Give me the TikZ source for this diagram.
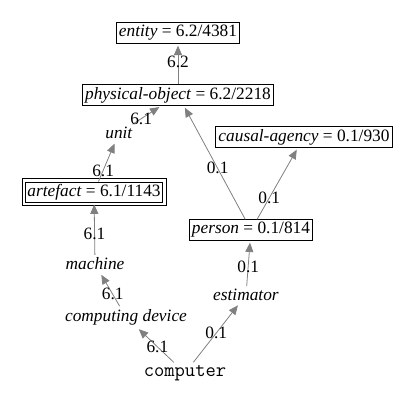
\documentclass[tikz,border=0pt]{standalone}
\usepackage{fontspec}
\setmainfont{Liberation Serif}
\usetikzlibrary{arrows.meta}
\definecolor{edgegray}{RGB}{128,128,128}
\tikzset{
  syn/.style={draw,inner sep=2pt,line width=0.6pt},
  dsyn/.style={draw,inner sep=1.6pt,line width=0.6pt},
  wrd/.style={inner sep=2pt},
  hyp/.style={edgegray,line width=0.6pt,-{Triangle[length=7pt,width=6pt]},shorten >=1.5pt},
  elab/.style={inner sep=0pt,text=black},
  every picture/.style={x=0.75pt,y=-0.75pt,font=\fontsize{13}{15}\selectfont}
}
\begin{document}
\begin{tikzpicture}
      \useasboundingbox (0,0) rectangle (415,403);
      \node[syn] (entity) at (178,33) {\textit{entity} = 6.2/4381};
      \node[syn] (phys) at (178,95) {\textit{physical-object} = 6.2/2218};
      \node[wrd] (unit) at (119,133) {\textit{unit}};
      \node[syn] (causal) at (304,137) {\textit{causal-agency} = 0.1/930};
      \node[dsyn] (artefact) at (94,192) {\textit{artefact} = 6.1/1143};
      \draw[line width=0.6pt] ([shift={(-2.2pt,-2.2pt)}]artefact.south west) rectangle ([shift={(2.2pt,2.2pt)}]artefact.north east);
      \node[syn] (person) at (251,230) {\textit{person} = 0.1/814};
      \node[wrd] (machine) at (95,264) {\textit{machine}};
      \node[wrd] (estimator) at (246,295) {\textit{estimator}};
      \node[wrd] (compdev) at (126,317) {\textit{computing device}};
      \node[wrd,font=\fontsize{15}{17}\selectfont\ttfamily] (computer) at (185,373) {computer};
      \draw[hyp] (phys) -- node[elab,pos=0.55] {6.2} (entity);
      \draw[hyp] (unit) -- node[elab,pos=0.3] {6.1} (phys);
      \draw[hyp] (artefact) -- node[elab,pos=0.28] {6.1} (unit);
      \draw[hyp] (machine) -- node[elab,pos=0.4] {6.1} (artefact);
      \draw[hyp] (compdev) -- node[elab,pos=0.36] {6.1} (machine);
      \draw[hyp] (computer) -- node[elab,pos=0.45] {6.1} (compdev);
      \draw[hyp] (computer) -- node[elab,pos=0.5] {0.1} (estimator);
      \draw[hyp] (estimator) -- node[elab,pos=0.43] {0.1} (person);
      \draw[hyp] (person) -- node[elab,pos=0.45] {0.1} (phys);
      \draw[hyp] (person) -- node[elab,pos=0.3] {0.1} (causal);
    \end{tikzpicture}
\end{document}
